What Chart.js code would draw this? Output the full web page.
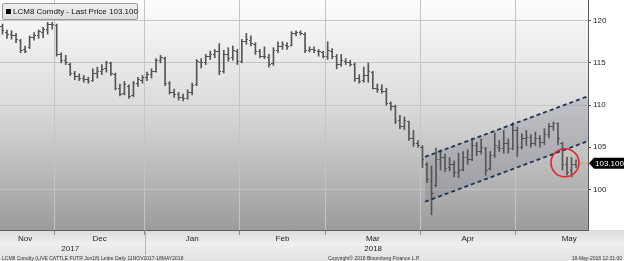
<!DOCTYPE html>
<html><head><meta charset="utf-8">
<script src="https://cdn.jsdelivr.net/npm/chart.js@4.4.1/dist/chart.umd.min.js"></script>
<style>
html,body{margin:0;padding:0;background:#fff;overflow:hidden}
#wrap{position:relative;width:624px;height:261px;font-family:"Liberation Sans",Arial,sans-serif}
#c{position:absolute;left:0;top:0}
#legend{position:absolute;left:2px;top:3px;width:136px;height:17px;box-sizing:border-box;border:1px solid #9a9a9a;border-radius:2px;background:linear-gradient(#efefef,#dedede);font-size:8px;line-height:15px;color:#111;padding-left:3px;white-space:nowrap}
#legend i{display:inline-block;width:5px;height:5px;background:#000;margin-right:2px;vertical-align:0px}
.foot{position:absolute;top:255px;font-size:5px;line-height:6px;color:#333;white-space:nowrap}
</style></head>
<body><div id="wrap">
<canvas id="c" width="624" height="261"></canvas>
<div id="legend"><i></i>LCM8 Comdty - Last Price 103.100</div>
<div class="foot" style="left:2px">LCM8 Comdty (LIVE CATTLE FUTR  Jun18) Lettre  Daily 11NOV2017-18MAY2018</div>
<div class="foot" style="left:328px">Copyright© 2018 Bloomberg Finance L.P.</div>
<div class="foot" style="right:2px">18-May-2018 12:31:00</div>
</div>
<script>
// ---- data ----
const holidays = ['2017-11-23','2017-12-25','2018-01-01','2018-01-15','2018-02-19','2018-03-30'];
const opens = [
120.0,119.3,118.6,118.4,118.2,117.6,116.6,116.8,118.0,118.2,
118.6,119.0,119.5,119.4,116.0,115.3,114.8,113.8,113.4,113.1,
113.0,112.9,113.7,114.0,114.3,114.9,113.6,112.0,111.4,112.2,
111.1,112.5,112.9,113.3,113.6,114.0,115.3,115.5,112.5,111.5,
111.2,110.9,110.8,111.5,112.4,115.1,115.0,115.8,116.0,116.3,
114.0,116.0,115.6,116.4,115.2,117.5,117.7,117.2,116.3,115.8,
115.6,114.9,116.5,117.0,117.1,117.1,118.5,118.6,118.4,116.5,
116.6,116.4,116.2,115.8,116.4,115.7,114.8,115.2,115.0,114.8,
113.2,112.9,113.5,113.9,112.0,111.8,111.6,110.2,109.8,108.2,
107.5,108.0,106.0,105.4,105.0,103.0,101.0,100.5,103.5,103.8,
102.6,103.0,102.0,102.4,103.8,103.6,105.2,104.5,104.8,102.5,
104.0,105.0,104.8,105.5,104.9,107.0,105.0,106.0,106.2,105.5,
106.0,105.6,106.5,107.5,107.8,105.5,103.0,102.2,103.0];
const highs = [
120.3,119.6,118.9,118.8,118.5,117.8,117.0,118.2,118.6,118.9,
119.2,119.8,119.8,119.6,116.2,115.9,115.0,114.0,113.7,113.5,
113.3,114.3,114.5,114.8,115.2,115.1,113.8,112.5,112.8,112.4,
112.8,113.3,113.5,113.9,114.3,115.5,115.9,115.7,112.8,111.9,
111.5,111.3,111.8,112.6,115.4,115.5,116.0,116.4,116.6,117.3,
116.5,116.8,117.0,116.6,117.8,118.5,118.2,117.4,116.6,116.9,
116.0,116.8,117.5,117.5,117.4,118.7,118.8,118.8,118.6,116.9,
116.9,116.6,116.4,117.5,116.7,116.0,116.0,115.5,115.3,115.0,
113.6,114.5,115.0,114.0,112.5,112.4,112.0,110.4,110.0,108.8,
108.6,108.1,107.0,105.8,105.2,103.2,102.8,104.9,104.7,104.2,
103.8,103.4,104.3,104.5,104.7,106.1,105.6,106.0,105.0,104.5,
106.7,105.8,107.0,106.0,107.9,107.4,106.6,107.0,106.5,106.8,
106.4,107.2,107.8,108.0,107.9,105.6,103.8,103.8,103.5];
const lows = [
118.8,118.4,117.9,117.8,117.4,116.2,116.2,116.7,117.7,117.9,
118.0,118.4,119.0,115.8,115.0,114.8,113.5,113.0,112.9,112.7,
112.6,112.8,113.2,113.6,113.9,113.5,111.8,111.1,111.2,110.8,
111.0,112.2,112.6,112.9,113.2,113.9,115.0,112.3,111.3,110.9,
110.6,110.5,110.7,111.2,112.3,114.4,114.8,115.4,115.6,113.6,
113.8,115.2,115.3,114.8,115.0,117.2,117.0,116.0,115.6,115.5,
114.5,114.7,116.2,116.6,116.6,117.0,118.2,118.3,116.2,116.3,
116.2,115.8,115.6,115.4,115.5,114.3,114.6,114.8,114.6,112.8,
112.6,112.7,112.7,111.9,111.5,111.4,110.0,109.4,107.8,107.2,
107.1,105.8,105.1,105.0,102.6,100.8,97.0,100.3,102.3,102.1,
102.2,101.5,101.4,102.2,103.0,103.4,104.0,104.2,101.7,102.3,
103.8,104.5,104.3,104.3,104.7,103.9,104.8,105.2,105.0,105.2,
105.0,105.3,106.1,107.0,105.3,102.3,101.7,101.5,102.6];
const closes = [
119.5,118.8,118.4,118.3,117.8,116.5,116.4,118.0,118.3,118.7,
119.0,119.5,119.6,116.0,115.3,115.0,113.8,113.4,113.2,113.0,
112.8,113.8,114.0,114.2,115.0,113.8,112.0,111.3,112.4,111.0,
112.5,113.0,113.3,113.6,114.0,115.3,115.6,112.5,111.5,111.2,
110.9,110.8,111.5,112.3,115.2,115.0,115.8,116.0,116.3,114.0,
116.0,115.5,116.5,115.2,117.5,117.8,117.3,116.3,115.8,115.7,
114.8,116.5,117.0,117.2,117.0,118.5,118.6,118.5,116.5,116.6,
116.5,116.3,115.8,116.5,115.8,114.8,115.3,115.0,114.8,113.2,
112.8,113.5,114.0,112.0,111.8,111.6,110.2,109.8,108.0,107.5,
108.2,106.0,105.5,105.2,103.5,101.2,99.5,103.5,103.8,102.5,
103.0,102.0,102.3,103.8,103.5,105.2,104.5,105.0,102.3,104.0,
105.2,104.8,105.5,104.8,107.0,105.0,106.0,106.2,105.5,106.0,
105.6,106.5,107.5,107.8,106.0,103.0,102.0,103.0,103.1];
const lastPrice = 103.1;
const yTickValues = [100, 105, 110, 115, 120];
const monthNames = ['Jan','Feb','Mar','Apr','May','Jun','Jul','Aug','Sep','Oct','Nov','Dec'];
// trend channel drawn on the chart (trading-day index, price)
const channelX = [94.56, 130.65];
const channelUpper = [103.87, 111.05];
const channelLower = [98.55, 105.74];
const circleMark = {x: 125.55, y: 103.16};

// ---- trading days ----
function tradingDays(){
  const out=[]; const d=new Date(Date.UTC(2017,10,13)); const end=Date.UTC(2018,4,18);
  while(d.getTime()<=end){ const wd=d.getUTCDay(); const s=d.toISOString().slice(0,10);
    if(wd!==0&&wd!==6&&!holidays.includes(s)) out.push(s); d.setUTCDate(d.getUTCDate()+1);} return out;
}
const dates = tradingDays();
[opens,highs,lows,closes].forEach(a=>{ if(a.length!==dates.length) throw new Error('length '+a.length+' vs '+dates.length); });

const X_MIN = 0.45, X_MAX = 130.65, Y_MIN = 95.2, Y_MAX = 122.45;
const boundaries=[], monthLabelPos=[], monthLabelText=[], yearLabelPos=[], yearLabelText=[];
let starts=[0];
for(let i=1;i<dates.length;i++){ if(dates[i].slice(5,7)!==dates[i-1].slice(5,7)) starts.push(i); }
starts.forEach((s,k)=>{
  const b = s-0.5; if(k>0) boundaries.push(b);
  const next = k<starts.length-1 ? starts[k+1]-0.5 : b+24;
  monthLabelPos.push((Math.max(b,-0.5)+next)/2); monthLabelText.push(monthNames[+dates[s].slice(5,7)-1]);
});
const years={};
starts.forEach((s,k)=>{ const y=dates[s].slice(0,4); const b=s-0.5; const next = k<starts.length-1 ? starts[k+1]-0.5 : X_MAX+3;
  if(!years[y]) years[y]={a:Math.max(b,-0.5),b:next}; else years[y].b=next; });
Object.keys(years).forEach(y=>{ yearLabelPos.push((years[y].a+years[y].b)/2); yearLabelText.push(y); });
const yearBoundary = years['2018'].a;

const FONT='"Liberation Sans", Arial, sans-serif';
Chart.defaults.font.family = FONT;

function tickCanvas(left){ const c=document.createElement('canvas'); c.width=4; c.height=1; const g=c.getContext('2d'); g.fillStyle='#555'; g.fillRect(left?0:2,0,2,1); return c; }
function noPad(s){ s.paddingLeft=0; s.paddingRight=0; s.paddingTop=0; s.paddingBottom=0; }

const bgPlugin = {
  id:'bg',
  beforeDraw(chart){
    const {ctx, chartArea:a} = chart; ctx.save();
    ctx.fillStyle='#fff'; ctx.fillRect(0,0,chart.width,chart.height);
    let g=ctx.createLinearGradient(0,a.bottom,0,chart.height);
    g.addColorStop(0,'#dcdcdc'); g.addColorStop(0.45,'#efefef'); g.addColorStop(1,'#e2e2e2');
    ctx.fillStyle=g; ctx.fillRect(0,a.bottom,chart.width,chart.height-a.bottom);
    g=ctx.createLinearGradient(0,a.top,0,a.bottom);
    g.addColorStop(0,'#fcfcfc'); g.addColorStop(0.45,'#dcdcdc'); g.addColorStop(1,'#9c9c9c');
    ctx.fillStyle=g; ctx.fillRect(a.left,a.top,a.right-a.left,a.bottom-a.top);
    ctx.restore();
  },
  afterDraw(chart){
    const {ctx, chartArea:a, scales} = chart; ctx.save();
    const xb = Math.round(scales.x.getPixelForValue(yearBoundary))+0.5;
    ctx.strokeStyle='#b4b4b4'; ctx.lineWidth=1; ctx.beginPath(); ctx.moveTo(xb,a.bottom); ctx.lineTo(xb,a.bottom+25); ctx.stroke();
    const y = scales.y.getPixelForValue(lastPrice);
    const x0 = a.right+1;
    ctx.fillStyle='#000'; ctx.beginPath();
    ctx.moveTo(x0,y); ctx.lineTo(x0+5,y-5.5); ctx.lineTo(chart.width,y-5.5); ctx.lineTo(chart.width,y+5.5); ctx.lineTo(x0+5,y+5.5); ctx.closePath(); ctx.fill();
    ctx.fillStyle='#fff'; ctx.font='8px '+FONT; ctx.textBaseline='middle'; ctx.textAlign='left';
    ctx.fillText(lastPrice.toFixed(3), x0+6, y+0.5);
    ctx.restore();
  }
};

const idx = dates.map((d,i)=>i);
new Chart(document.getElementById('c'), {
  type:'scatter',
  data:{ datasets:[
    { type:'line', data:channelX.map((x,i)=>({x, y:channelUpper[i]})), borderColor:'#1d3553', borderWidth:1.8, borderDash:[4,3], pointRadius:0, fill:false, order:0 },
    { type:'line', data:channelX.map((x,i)=>({x, y:channelLower[i]})), borderColor:'#1d3553', borderWidth:1.8, borderDash:[4,3], pointRadius:0, fill:'-1', backgroundColor:'rgba(100,110,130,0.24)', order:0 },
    { type:'bar', data:idx.map(i=>({x:i, y:[lows[i], highs[i]]})), backgroundColor:'#555', barThickness:1, order:5 },
    { type:'scatter', data:idx.map(i=>({x:i, y:opens[i]})), pointStyle:tickCanvas(true), pointRadius:2, order:4 },
    { type:'scatter', data:idx.map(i=>({x:i, y:closes[i]})), pointStyle:tickCanvas(false), pointRadius:2, order:4 },
    { type:'line', data:[{x:idx.length-1, y:lastPrice},{x:X_MAX, y:lastPrice}], borderColor:'#d9a45e', borderWidth:1, pointRadius:0, order:3 },
    { type:'bubble', data:[{x:circleMark.x, y:circleMark.y, r:14}], backgroundColor:'rgba(0,0,0,0)', borderColor:'#e3262b', borderWidth:1.6, order:-1 }
  ]},
  options:{
    responsive:false, animation:false, devicePixelRatio:1,
    layout:{ autoPadding:false, padding:{left:0, right:0, top:0, bottom:7} },
    plugins:{ legend:{display:false}, tooltip:{enabled:false}, filler:{drawTime:'beforeDatasetsDraw'} },
    scales:{
      x:{ type:'linear', position:'bottom', min:X_MIN, max:X_MAX, offset:false,
          afterBuildTicks:s=>{ s.ticks = boundaries.map(v=>({value:v})); },
          ticks:{ display:false },
          grid:{ offset:false, color:'#c4c4c4', lineWidth:1, drawTicks:true, tickLength:5, tickColor:'#909090' },
          border:{ display:true, color:'#5c5c5c', width:1 },
          afterFit:s=>{ s.height = 4; noPad(s); } },
      xm:{ type:'linear', position:'bottom', min:X_MIN, max:X_MAX, offset:false,
          afterBuildTicks:s=>{ s.ticks = monthLabelPos.map(v=>({value:v})); },
          ticks:{ autoSkip:false, maxRotation:0, padding:0, font:{size:8}, color:'#222', callback:(v,i)=>monthLabelText[i] },
          grid:{ display:false, drawTicks:false, offset:false }, border:{display:false},
          afterFit:s=>{ s.height = 10; noPad(s); } },
      xy:{ type:'linear', position:'bottom', min:X_MIN, max:X_MAX, offset:false,
          afterBuildTicks:s=>{ s.ticks = yearLabelPos.map(v=>({value:v})); },
          ticks:{ autoSkip:false, maxRotation:0, padding:0, font:{size:8}, color:'#222', callback:(v,i)=>yearLabelText[i] },
          grid:{ display:false, drawTicks:false, offset:false }, border:{display:false},
          afterFit:s=>{ s.height = 10; noPad(s); } },
      y:{ type:'linear', position:'right', min:Y_MIN, max:Y_MAX,
          afterBuildTicks:s=>{ s.ticks = yTickValues.map(v=>({value:v})); },
          ticks:{ padding:2, font:{size:8}, color:'#222', callback:v=>String(v) },
          grid:{ color:'#c4c4c4', drawTicks:true, tickLength:3, tickColor:'#555' },
          border:{ display:true, color:'#5c5c5c', width:1 },
          afterFit:s=>{ s.width = 36; noPad(s); } }
    }
  },
  plugins:[bgPlugin]
});
</script>
</body></html>
